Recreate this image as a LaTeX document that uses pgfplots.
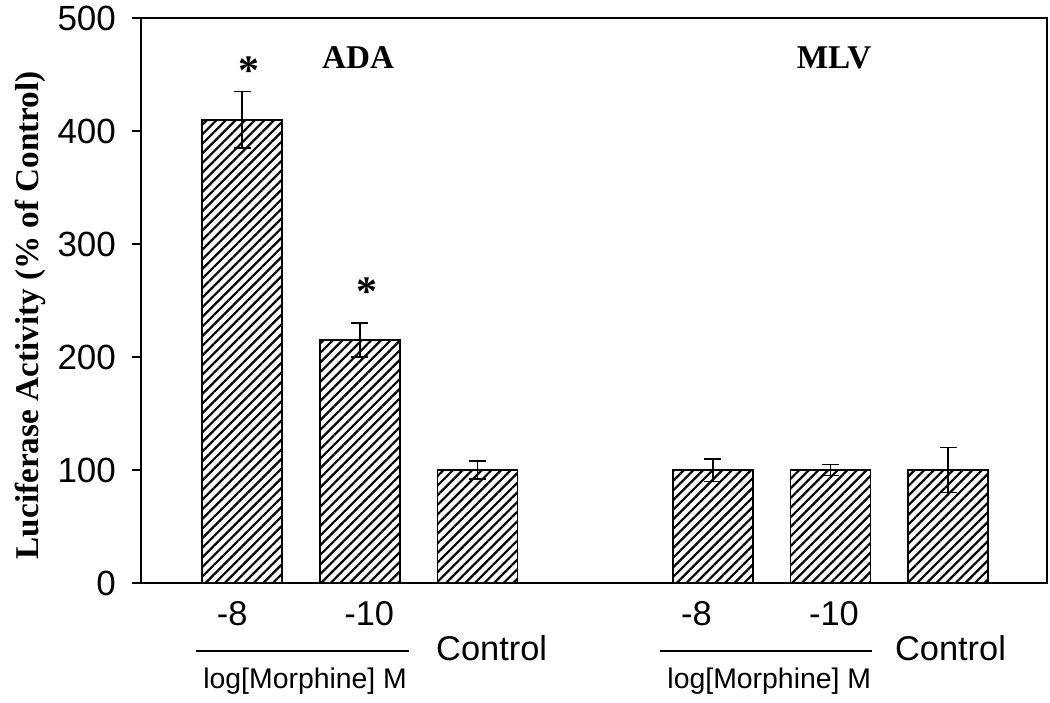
\documentclass[border=0pt]{standalone}
\usepackage{pgfplots}
\pgfplotsset{compat=1.18}
\usepackage{pgfplotstable}
\usepackage{fontspec}
\setmainfont{Liberation Serif}
\setsansfont{Liberation Sans}
\usetikzlibrary{patterns.meta}

\pgfplotstableread{
x y e
0 410 25
1 215 15
2 100 8
4 100 10
5 100 5
6 100 20
}\bardata

\newcommand{\ytickfont}{\sffamily\fontsize{17.5}{17.5}\selectfont}
\newcommand{\tickfont}{\sffamily\fontsize{17.2}{17.2}\selectfont}
\newcommand{\smallfont}{\sffamily\fontsize{14.2}{14.2}\selectfont}
\newcommand{\serifbold}{\rmfamily\bfseries\fontsize{16.6}{16.6}\selectfont}
\newcommand{\starfont}{\rmfamily\bfseries\fontsize{21}{21}\selectfont}

\begin{document}
\begin{tikzpicture}
\useasboundingbox (-70.5pt,-59.5pt) rectangle (454.5pt,291.5pt);
\begin{axis}[
  at={(0pt,0pt)}, anchor=south west,
  scale only axis, width=453pt, height=282.5pt,
  xmin=-0.86, xmax=6.84, ymin=0, ymax=500,
  ytick={0,100,...,500},
  xtick=\empty,
  ytick pos=left, tick align=outside,
  major tick length=4.5pt,
  tick style={line width=0.6pt, black},
  axis line style={line width=0.8pt},
  /pgf/number format/assume math mode=true,
  yticklabel style={font=\ytickfont, xshift=-4.5pt},
  ylabel={Luciferase Activity (\% of Control)},
  ylabel style={font=\serifbold, at={(axis description cs:-0.1225,0.474)}, anchor=center},
  clip=false,
]
\addplot[ybar, bar width=0.68, draw=black, line width=0.8pt,
  pattern={Lines[angle=45,distance=3.4pt,line width=1.1pt]}, pattern color=black,
  error bars/.cd, y dir=both, y explicit,
  error bar style={line width=0.8pt, black, solid},
  error mark options={line width=0.8pt, mark size=4.25pt, black, rotate=90}]
  table[x=x, y=y, y error=e] {\bardata};

% asterisks and group titles
\node[font=\starfont] at (axis cs:0.06,453) {*};
\node[font=\starfont] at (axis cs:1.06,258) {*};
\node[font=\serifbold] at (axis cs:0.985,465) {ADA};
\node[font=\serifbold] at (axis cs:5.03,465) {MLV};

% category labels
\node[font=\tickfont, anchor=base] at ([yshift=-21pt]axis cs:-0.085,0) {-8};
\node[font=\tickfont, anchor=base] at ([yshift=-21pt]axis cs:1.08,0) {-10};
\node[font=\tickfont, anchor=base] at ([yshift=-21pt]axis cs:3.86,0) {-8};
\node[font=\tickfont, anchor=base] at ([yshift=-21pt]axis cs:5.03,0) {-10};
\node[font=\tickfont, anchor=base] at ([yshift=-38.5pt]axis cs:2.12,0) {Control};
\node[font=\tickfont, anchor=base] at ([yshift=-38.5pt]axis cs:6.02,0) {Control};
\draw[line width=0.75pt] ([yshift=-34pt]axis cs:-0.39,0) -- ([yshift=-34pt]axis cs:1.42,0);
\draw[line width=0.75pt] ([yshift=-34pt]axis cs:3.55,0) -- ([yshift=-34pt]axis cs:5.35,0);
\node[font=\smallfont, anchor=base] at ([yshift=-52.5pt]axis cs:0.535,0) {log[Morphine] M};
\node[font=\smallfont, anchor=base] at ([yshift=-52.5pt]axis cs:4.48,0) {log[Morphine] M};
\end{axis}
\end{tikzpicture}
\end{document}
